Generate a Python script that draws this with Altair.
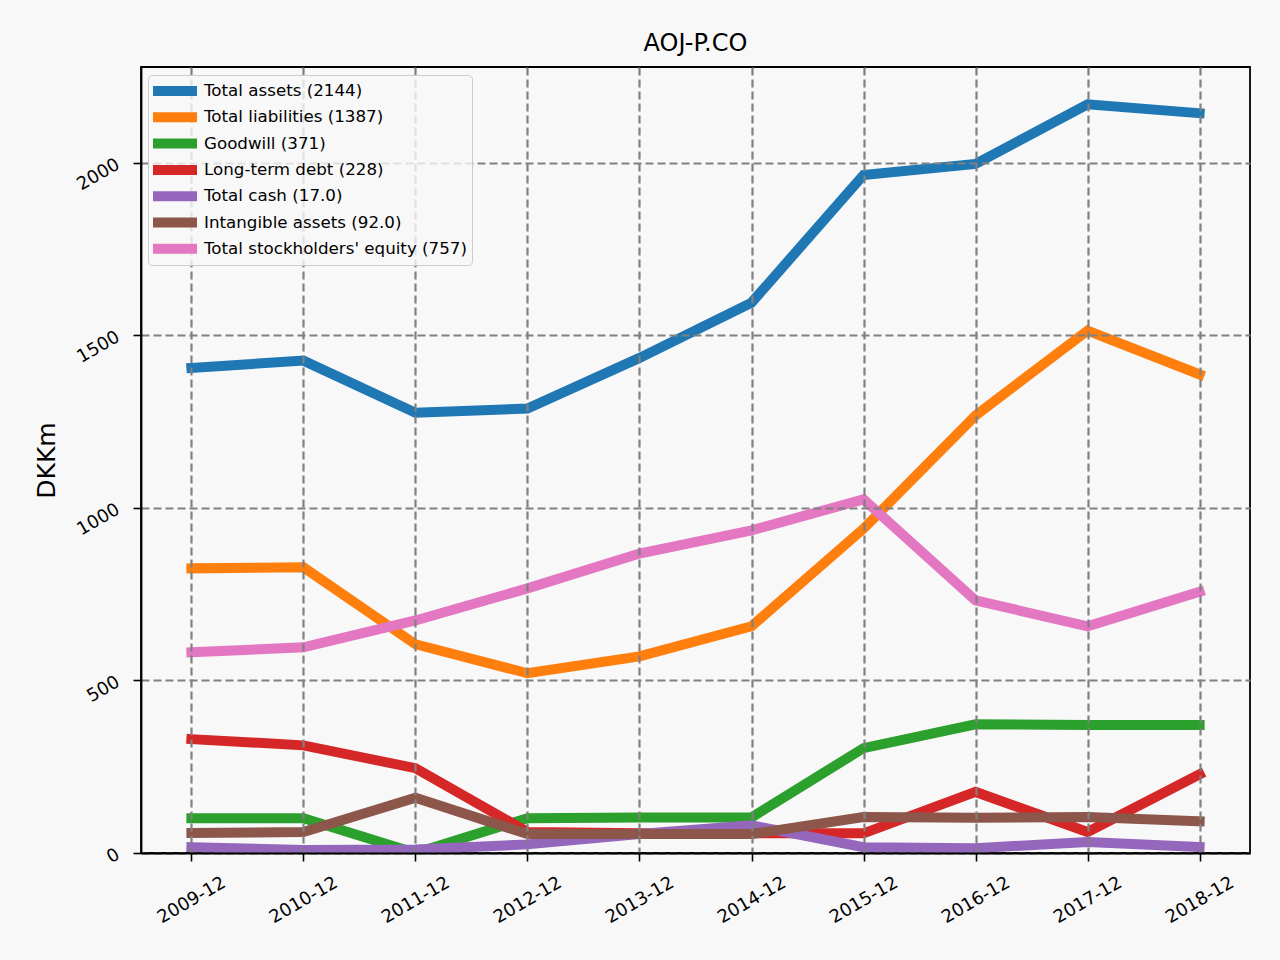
import altair as alt
import pandas as pd

# Fiscal year ends
years = ["2009-12", "2010-12", "2011-12", "2012-12", "2013-12",
         "2014-12", "2015-12", "2016-12", "2017-12", "2018-12"]

# Balance sheet items, DKK millions
total_assets = [1406, 1427, 1276, 1288, 1435, 1595, 1965, 1997, 2170, 2144]
total_liabilities = [825, 828, 605, 521, 570, 657, 940, 1268, 1514, 1387]
goodwill = [101, 101, 0, 101, 103, 103, 304, 373, 371, 371]
long_term_debt = [330, 312, 246, 61, 57, 57, 57, 177, 61, 228]
total_cash = [17, 9, 10, 25, 55, 80, 17, 14, 32, 17]
intangible_assets = [58, 61, 160, 55, 55, 55, 104, 102, 104, 92]
stockholders_equity = [582, 596, 674, 767, 868, 935, 1025, 732, 657, 757]

series_labels = [
    "Total assets (2144)",
    "Total liabilities (1387)",
    "Goodwill (371)",
    "Long-term debt (228)",
    "Total cash (17.0)",
    "Intangible assets (92.0)",
    "Total stockholders' equity (757)",
]
series_values = [total_assets, total_liabilities, goodwill, long_term_debt,
                 total_cash, intangible_assets, stockholders_equity]
palette = ["#1f77b4", "#ff7f0e", "#2ca02c", "#d62728",
           "#9467bd", "#8c564b", "#e377c2"]

rows = []
for k, (label, vals) in enumerate(zip(series_labels, series_values)):
    for yr, v in zip(years, vals):
        rows.append({"period": yr, "value": v, "series": label, "k": k})
df = pd.DataFrame(rows)

FONT = "DejaVu Sans"

chart = alt.Chart(df).mark_line(
    strokeWidth=10, strokeCap="square", strokeJoin="miter", clip=True
).encode(
    x=alt.X(
        "period:O",
        sort=years,
        scale=alt.Scale(type="point", padding=0.45),
        axis=alt.Axis(
            title=None, labelAngle=330, labelAlign="center", labelBaseline="middle",
            labelPadding=39, labelFontSize=18, tickSize=8, tickWidth=1.6,
            tickColor="black", grid=True, gridColor="#808080", gridWidth=2.2,
            gridDash=[8, 4], domainColor="black", domainWidth=1.8, zindex=1,
        ),
    ),
    y=alt.Y(
        "value:Q",
        scale=alt.Scale(domain=[0, 2278], nice=False, zero=True),
        axis=alt.Axis(
            title="DKKm", values=[0, 500, 1000, 1500, 2000], format="d",
            labelAngle=330, labelAlign="right", labelBaseline="middle",
            labelPadding=15, labelFontSize=18, tickSize=8, tickWidth=1.6,
            tickColor="black", grid=True, gridColor="#808080", gridWidth=2.2,
            gridDash=[8, 4], domainColor="black", domainWidth=1.8, zindex=1,
            titleFontSize=25, titleFontWeight="normal", titleAngle=270,
            titleX=-87, titleY=393, titleAlign="center", titleBaseline="alphabetic",
        ),
    ),
    color=alt.Color(
        "series:N",
        sort=series_labels,
        scale=alt.Scale(domain=series_labels, range=palette),
        legend=alt.Legend(
            title=None, orient="none", legendX=7, legendY=8,
            symbolType="stroke", symbolSize=1936, symbolStrokeWidth=10,
            symbolOffset=-5,
            clipHeight=22, rowPadding=4.3, labelFontSize=16.7, labelOffset=2,
            labelFont=FONT, labelColor="black", padding=5,
            fillColor="rgba(248,248,248,0.8)", strokeColor="#cccccc",
            cornerRadius=4, zindex=2, labelLimit=400,
        ),
    ),
    order=alt.Order("k:Q"),
    detail="k:Q",
).properties(
    width=1109,
    height=786,
    padding={"left": 141, "top": 67, "right": 30, "bottom": 107},
    autosize=alt.AutoSizeParams(type="none"),
    title=alt.TitleParams(
        "AOJ-P.CO", fontSize=24, font=FONT, fontWeight="normal",
        anchor="middle", baseline="alphabetic", offset=-8, color="black",
    ),
).configure(
    background="#f8f8f8",
    font=FONT,
).configure_view(
    stroke="black", strokeWidth=1.8, fill="#f8f8f8",
).configure_axis(
    labelFont=FONT, titleFont=FONT, labelColor="black", titleColor="black",
)

chart.save("out.html", embed_options={"renderer": "svg", "actions": False})
